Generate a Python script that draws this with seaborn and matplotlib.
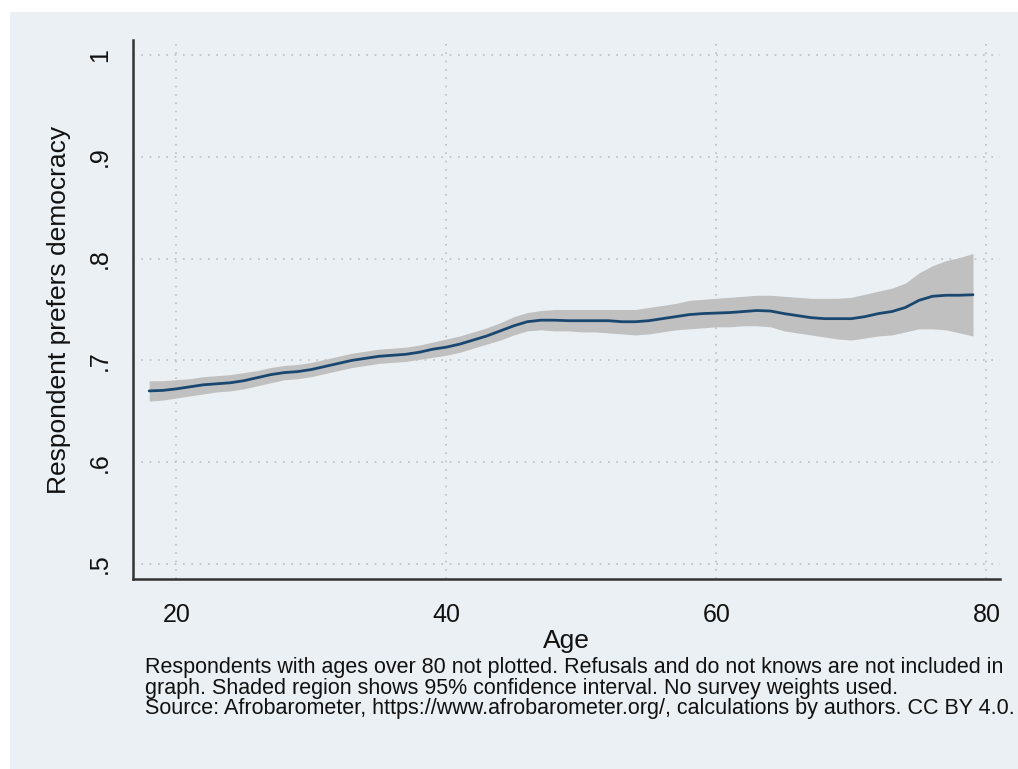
import matplotlib
matplotlib.use("Agg")
import matplotlib.pyplot as plt
from matplotlib.patches import Rectangle
import seaborn as sns
import pandas as pd

ages = list(range(18, 80))
pref = [0.670, 0.6705, 0.672, 0.674, 0.676, 0.677, 0.678, 0.680, 0.683, 0.686,
        0.688, 0.689, 0.691, 0.694, 0.697, 0.700, 0.702, 0.704, 0.705, 0.706,
        0.708, 0.711, 0.713, 0.716, 0.720, 0.724, 0.729, 0.734, 0.738, 0.7395,
        0.7395, 0.739, 0.739, 0.739, 0.739, 0.738, 0.738, 0.739, 0.741, 0.743,
        0.745, 0.746, 0.7465, 0.747, 0.748, 0.749, 0.7485, 0.746, 0.744, 0.742,
        0.741, 0.741, 0.741, 0.743, 0.746, 0.748, 0.752, 0.759, 0.763, 0.764,
        0.764, 0.7645]
ci_low = [0.660, 0.661, 0.663, 0.665, 0.667, 0.669, 0.670, 0.672, 0.675, 0.678,
          0.681, 0.682, 0.684, 0.687, 0.690, 0.693, 0.695, 0.697, 0.698, 0.699,
          0.701, 0.703, 0.705, 0.708, 0.712, 0.716, 0.720, 0.725, 0.729, 0.730,
          0.729, 0.729, 0.728, 0.728, 0.727, 0.726, 0.725, 0.726, 0.728, 0.730,
          0.731, 0.732, 0.733, 0.733, 0.734, 0.734, 0.733, 0.729, 0.727, 0.725,
          0.723, 0.721, 0.720, 0.722, 0.724, 0.725, 0.728, 0.731, 0.731, 0.730,
          0.727, 0.724]
ci_high = [0.680, 0.680, 0.681, 0.682, 0.684, 0.685, 0.686, 0.688, 0.690, 0.693,
           0.695, 0.696, 0.698, 0.701, 0.704, 0.707, 0.709, 0.711, 0.712, 0.713,
           0.715, 0.718, 0.721, 0.724, 0.728, 0.732, 0.737, 0.743, 0.747, 0.749,
           0.750, 0.750, 0.750, 0.750, 0.750, 0.750, 0.750, 0.752, 0.754, 0.756,
           0.759, 0.760, 0.761, 0.762, 0.763, 0.764, 0.764, 0.763, 0.762, 0.761,
           0.761, 0.761, 0.762, 0.765, 0.768, 0.771, 0.776, 0.786, 0.793, 0.798,
           0.801, 0.805]

x_ticks = [20, 40, 60, 80]
y_ticks = [0.5, 0.6, 0.7, 0.8, 0.9, 1.0]
y_tick_labels = [".5", ".6", ".7", ".8", ".9", "1"]
note = ("Respondents with ages over 80 not plotted. Refusals and do not knows are not included in\n"
        "graph. Shaded region shows 95% confidence interval. No survey weights used.\n"
        "Source: Afrobarometer, https://www.afrobarometer.org/, calculations by authors. CC BY 4.0.")

df = pd.DataFrame({"Age": ages, "pref": pref, "lo": ci_low, "hi": ci_high})

sns.set_style("white")
plt.rcParams["font.family"] = ["Liberation Sans", "DejaVu Sans"]

BG = "#eaf0f3"
fig = plt.figure(figsize=(10.18, 7.69), dpi=100, facecolor="white")
fig.patches.append(Rectangle((10 / 1018, 0), 1 - 10 / 1018, (769 - 12) / 769,
                             transform=fig.transFigure, facecolor=BG,
                             edgecolor="none", zorder=-10))
ax = fig.add_axes([133 / 1018, 1 - 579 / 769, (1000 - 133) / 1018, (579 - 40) / 769])
ax.set_facecolor(BG)

ax.fill_between(df["Age"], df["lo"], df["hi"], color="#c0c0c0", linewidth=0, zorder=2)
sns.lineplot(data=df, x="Age", y="pref", ax=ax, color="#1a476f", linewidth=2, zorder=3)

ax.set_xlim(16.8, 81.0)
ax.set_ylim(0.4852, 1.0148)
ax.set_xticks(x_ticks)
ax.set_yticks(y_ticks)
ax.set_yticklabels(y_tick_labels, rotation=90, va="center")
ax.tick_params(axis="both", direction="out", length=9, width=1.3, color="#333333",
               labelsize=18, labelcolor="#111111", pad=6)
ax.tick_params(axis="x", pad=8)

ax.grid(True, color="#b8bec2", linestyle=(0, (1, 4)), linewidth=1.2, zorder=0)
ax.set_axisbelow(True)
for side in ["top", "right"]:
    ax.spines[side].set_visible(False)
for side in ["left", "bottom"]:
    ax.spines[side].set_color("#333333")
    ax.spines[side].set_linewidth(1.8)

ax.set_xlabel("Age", fontsize=19, color="#111111", labelpad=2)
ax.set_ylabel("Respondent prefers democracy", fontsize=19, color="#111111", labelpad=12)

fig.text(145 / 1018, 1 - 657 / 769, note, fontsize=15.5, color="#111111",
         va="top", ha="left", linespacing=0.98)

fig.savefig("out.png", dpi=100, facecolor="white")
